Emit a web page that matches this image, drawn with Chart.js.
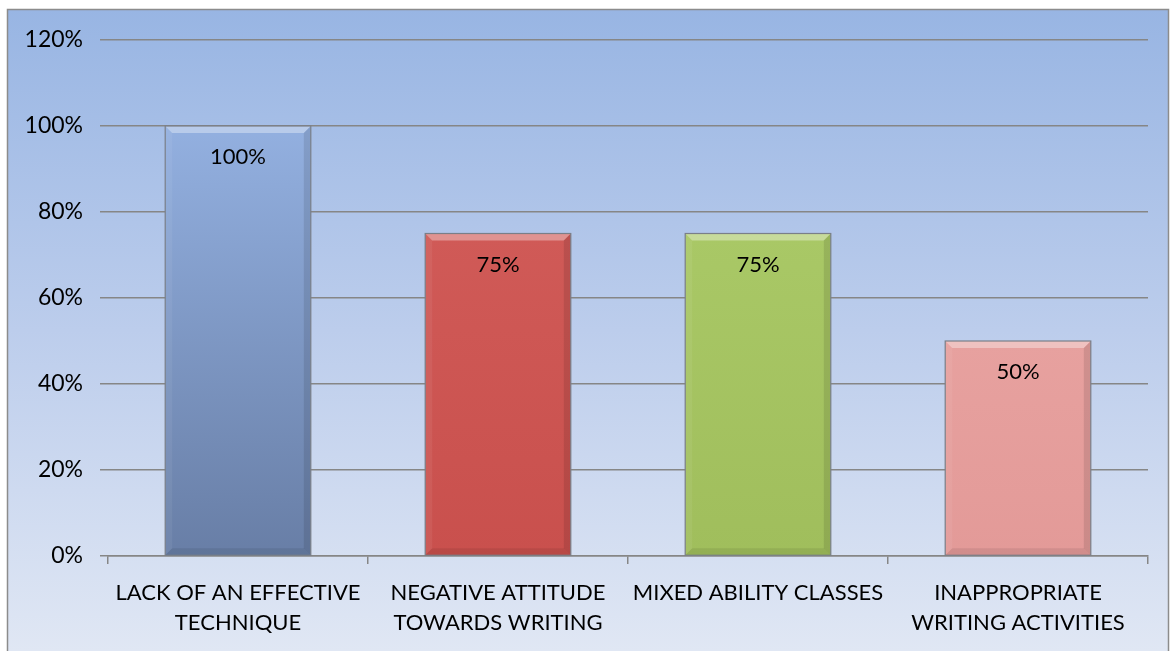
<!DOCTYPE html>
<html><head><meta charset="utf-8">
<script src="https://cdn.jsdelivr.net/npm/chart.js@4/dist/chart.umd.min.js"></script>
<style>html,body{margin:0;padding:0;background:#fff;}#wrap{width:1172px;height:651px;position:relative;}</style>
</head><body><div id="wrap"><canvas id="c"></canvas></div>
<script>
const categories = [["LACK OF AN EFFECTIVE","TECHNIQUE"],["NEGATIVE ATTITUDE","TOWARDS WRITING"],["MIXED ABILITY CLASSES"],["INAPPROPRIATE","WRITING ACTIVITIES"]];
const values = [1.00, 0.75, 0.75, 0.50];
const barTop = ['#93b0e0','#d05a57','#a9c866','#e7a19f'];
const barBottom = ['#687ea6','#c9504d','#a0be5c','#e39a98'];
const yTicks = {min:0, max:1.2, step:0.2};
const FONT = 'Lato, "Open Sans", sans-serif';

const bgPlugin = {
  id:'bg',
  beforeDraw(chart){
    const ctx = chart.ctx;
    ctx.save();
    const g = ctx.createLinearGradient(0,9,0,651);
    g.addColorStop(0,'#98b5e3');
    g.addColorStop(0.5,'#bccdec');
    g.addColorStop(1,'#e0e7f4');
    ctx.fillStyle = g;
    ctx.fillRect(8,9,1160,642);
    ctx.strokeStyle = '#8c8c8c';
    ctx.lineWidth = 1.5;
    ctx.strokeRect(7.5,9.5,1161,650);
    ctx.restore();
  }
};
const bevelPlugin = {
  id:'bevel',
  afterDatasetsDraw(chart){
    const ctx = chart.ctx;
    const meta = chart.getDatasetMeta(0);
    ctx.save();
    meta.data.forEach((el,i)=>{
      const w = el.width, x0 = el.x - w/2, x1 = el.x + w/2, y0 = el.y, y1 = el.base;
      const b = 7;
      ctx.fillStyle = 'rgba(255,255,255,0.35)';
      ctx.beginPath(); ctx.moveTo(x0,y0); ctx.lineTo(x1,y0); ctx.lineTo(x1-b,y0+b); ctx.lineTo(x0+b,y0+b); ctx.closePath(); ctx.fill();
      ctx.fillStyle = 'rgba(255,255,255,0.06)';
      ctx.beginPath(); ctx.moveTo(x0,y0); ctx.lineTo(x0+b,y0+b); ctx.lineTo(x0+b,y1-b); ctx.lineTo(x0,y1); ctx.closePath(); ctx.fill();
      ctx.fillStyle = 'rgba(0,0,0,0.10)';
      ctx.beginPath(); ctx.moveTo(x1,y0); ctx.lineTo(x1-b,y0+b); ctx.lineTo(x1-b,y1-b); ctx.lineTo(x1,y1); ctx.closePath(); ctx.fill();
      ctx.fillStyle = 'rgba(0,0,0,0.08)';
      ctx.beginPath(); ctx.moveTo(x0,y1); ctx.lineTo(x0+b,y1-b); ctx.lineTo(x1-b,y1-b); ctx.lineTo(x1,y1); ctx.closePath(); ctx.fill();
      ctx.strokeStyle = '#7a7f88'; ctx.lineWidth = 1.2;
      ctx.strokeRect(x0,y0,w,y1-y0);
      ctx.fillStyle = '#000';
      ctx.font = '22px ' + FONT;
      ctx.textAlign = 'center'; ctx.textBaseline = 'middle';
      ctx.fillText(Math.round(values[i]*100)+'%', el.x, y0+31);
    });
    ctx.restore();
  }
};

const ctx = document.getElementById('c').getContext('2d');
new Chart(ctx,{
  type:'bar',
  data:{labels:categories, datasets:[{
    data:values,
    backgroundColor:(c)=>{
      const ch=c.chart, a=ch.chartArea; if(!a) return barTop[c.dataIndex];
      const i=c.dataIndex;
      const g=ch.ctx.createLinearGradient(0,ch.scales.y.getPixelForValue(values[i]),0,a.bottom);
      g.addColorStop(0,barTop[i]); g.addColorStop(1,barBottom[i]); return g;
    },
    borderWidth:0,
    barPercentage:0.56, categoryPercentage:1.0
  }]},
  options:{
    responsive:true, maintainAspectRatio:false, animation:false,
    devicePixelRatio:1,
    layout:{padding:{left:8,right:24,top:40,bottom:0}},
    plugins:{legend:{display:false}, tooltip:{enabled:false}},
    scales:{
      y:{min:yTicks.min,max:yTicks.max,
        ticks:{stepSize:yTicks.step, padding:17, color:'#000', font:{size:23,family:FONT},
          callback:(v)=>Math.round(v*100)+'%'},
        grid:{color:'#868686', lineWidth:1.5, tickLength:8, drawTicks:true},
        border:{display:false},
        afterFit(s){s.width=100;}
      },
      x:{
        ticks:{color:'#000', padding:14, maxRotation:0, autoSkip:false, font:{size:22,family:FONT, lineHeight:1.36}},
        grid:{drawOnChartArea:false, drawTicks:true, tickLength:8, color:'#868686', lineWidth:1.5, offset:true},
        border:{display:true, color:'#868686', width:1.5},
        afterFit(s){s.height=95;}
      }
    }
  },
  plugins:[bgPlugin,bevelPlugin]
});
</script></body></html>
